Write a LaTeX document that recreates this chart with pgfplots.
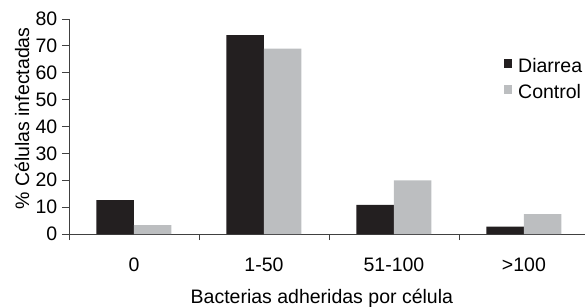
\documentclass[border=0pt]{standalone}
\usepackage{pgfplots}
\pgfplotsset{compat=1.18}
\usepackage{fontspec}
\setmainfont{Liberation Sans}
\definecolor{diar}{HTML}{231F20}
\definecolor{ctrl}{HTML}{BCBEC0}
\definecolor{axc}{HTML}{404040}
\begin{document}
\fontsize{19.5}{23}\selectfont
\begin{tikzpicture}
\useasboundingbox (-69pt,-72pt) rectangle (516pt,234pt);
\begin{axis}[
  scale only axis, width=516pt, height=215pt,
  xmin=-0.5, xmax=3.47, ymin=0, ymax=80,
  axis lines*=left,
  axis line style={axc, line width=0.8pt},
  ybar=0pt, bar width=37.5pt,
  xtick={0,1,2,3}, xticklabels={0,1-50,51-100,{>100}},
  major x tick style={draw=none},
  minor xtick={-0.5,0.5,1.5,2.5},
  ytick={0,10,...,80},
  tick align=outside, major tick length=7pt, minor tick length=6pt,
  tick style={axc, line width=0.8pt},
  /pgf/number format/assume math mode=true,
  ticklabel style={font=\fontsize{19.5}{23}\selectfont},
  xticklabel style={yshift=-10pt},
  yticklabel style={xshift=2pt},
  xlabel={Bacterias adheridas por célula},
  xlabel style={at={(axis description cs:0.49,0)}, anchor=base, yshift=-69pt},
  ylabel={\% Células infectadas},
  ylabel style={at={(axis description cs:-0.091,0.537)}, anchor=center},
  legend style={at={(rel axis cs:0.843,0.828)}, anchor=north west, draw=none, fill=none,
    font=\fontsize{19.5}{23}\selectfont, row sep=5pt, column sep=4pt, inner sep=0pt},
  legend cell align=left,
  legend image code/.code={\draw[#1, draw=none] (0pt,-1pt) rectangle (8pt,8pt);},
]
\addplot[fill=diar, draw=none] coordinates {(0,12.6) (1,74) (2,10.8) (3,2.7)};
\addplot[fill=ctrl, draw=none] coordinates {(0,3.3) (1,69) (2,20) (3,7.4)};
\legend{Diarrea, Control}
\end{axis}
\end{tikzpicture}
\end{document}
